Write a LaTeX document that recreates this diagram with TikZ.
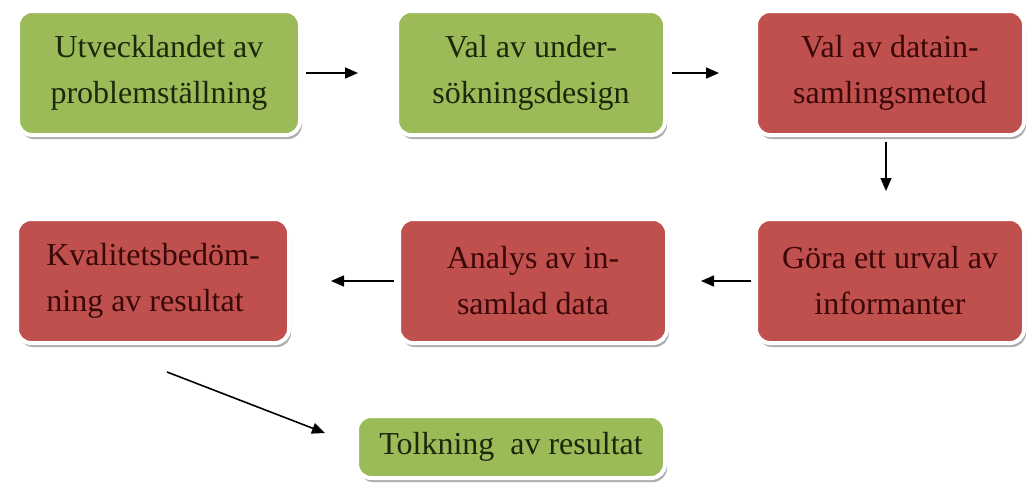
\documentclass[tikz,border=0pt]{standalone}
\usepackage{fontspec}
\setmainfont{Liberation Serif}
\usetikzlibrary{arrows.meta,shadows}
\definecolor{boxgreen}{HTML}{9BBB59}
\definecolor{boxred}{HTML}{C0504D}
\definecolor{txtgreen}{HTML}{1C280C}
\definecolor{txtred}{HTML}{3A0808}
\tikzset{
  stepbox/.style={rounded corners=14pt, draw=white, line width=4pt,
    drop shadow={shadow xshift=2pt, shadow yshift=-4pt, fill=black!40, opacity=0.8},
    minimum height=124pt, inner sep=4pt, align=center,
    font=\rmfamily\fontsize{32}{46}\selectfont},
  greenbox/.style={stepbox, fill=boxgreen, text=txtgreen},
  redbox/.style={stepbox, fill=boxred, text=txtred},
  arr/.style={-{Triangle[length=13pt,width=11pt]}, line width=1.6pt, black}
}
\begin{document}
\begin{tikzpicture}[x=1pt,y=-1pt]
\useasboundingbox (0,0) rectangle (1030,490);
\node[greenbox, minimum width=282pt] (b1) at (159,73) {Utvecklandet av\\problemställning};
\node[greenbox, minimum width=268pt] (b2) at (531,73) {Val av under-\\sökningsdesign};
\node[redbox, minimum width=268pt] (b3) at (890,73) {Val av datain-\\samlingsmetod};
\node[redbox, minimum width=268pt] (b4) at (890,281) {Göra ett urval av\\informanter};
\node[redbox, minimum width=268pt] (b5) at (533,281) {Analys av in-\\samlad data};
\node[redbox, minimum width=272pt, align=left] (b6) at (153,281) {Kvalitetsbedöm-\\ning av resultat};
\node[greenbox, minimum width=308pt, minimum height=62pt, font=\rmfamily\fontsize{32}{40}\selectfont] (t) at (511,447) {Tolkning\ \ av resultat};
\draw[arr, shorten <=4pt, shorten >=37pt] (b1) -- (b2);
\draw[arr, shorten <=5pt, shorten >=35pt] (b2) -- (b3);
\draw[arr, shorten <=5pt, shorten >=26pt] ([xshift=-4pt]b3.south) -- ([xshift=-4pt]b4.north);
\draw[arr, shorten <=3pt, shorten >=32pt] (b4) -- (b5);
\draw[arr, shorten <=3pt, shorten >=40pt] (b5) -- (b6);
\coordinate (d1) at ([shift={(14,27)}]b6.south);
\coordinate (d2) at ([shift={(-30,-14)}]t.west);
\draw[arr] (d1) -- (d2);
\end{tikzpicture}
\end{document}
